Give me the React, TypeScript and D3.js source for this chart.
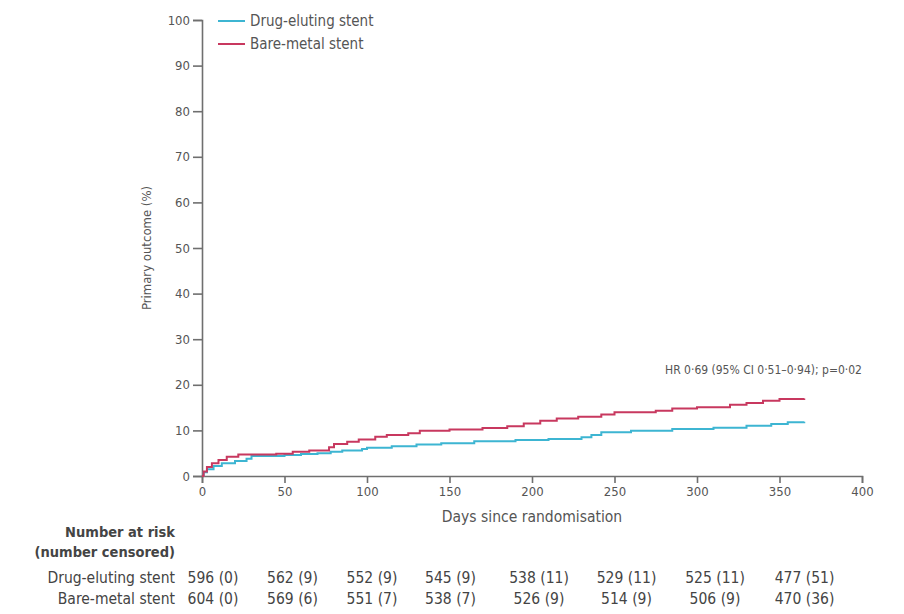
import React, { useEffect, useRef } from "react";
import * as d3 from "d3";

// Kaplan-Meier step points: [day, cumulative %]
const bareMetal: [number, number][] = [
  [0, 0], [1, 1], [3, 2], [6, 2.8], [10, 3.5], [15, 4.2], [22, 4.7], [45, 4.9],
  [55, 5.3], [65, 5.6], [77, 6.3], [80, 7.0], [88, 7.5], [95, 8.0], [105, 8.6],
  [112, 9.0], [125, 9.4], [132, 9.9], [150, 10.2], [170, 10.5], [185, 10.9],
  [195, 11.5], [205, 12.1], [215, 12.6], [228, 13.0], [242, 13.5], [250, 14.0],
  [275, 14.3], [285, 14.8], [300, 15.1], [320, 15.6], [330, 16.0], [340, 16.5],
  [350, 16.9], [365, 17.0],
];

const drugEluting: [number, number][] = [
  [0, 0], [1, 0.8], [3, 1.5], [7, 2.2], [12, 2.8], [20, 3.3], [27, 3.8], [30, 4.4],
  [50, 4.6], [60, 4.8], [70, 5.0], [78, 5.3], [85, 5.6], [97, 5.9], [100, 6.2],
  [115, 6.5], [130, 6.9], [145, 7.2], [165, 7.6], [190, 7.9], [210, 8.1],
  [230, 8.5], [236, 9.0], [242, 9.6], [260, 9.9], [285, 10.3], [310, 10.6],
  [330, 11.0], [345, 11.4], [355, 11.8], [365, 11.9],
];

const riskDays = [0, 50, 100, 150, 200, 250, 300, 350];
const riskDrug = ["596 (0)", "562 (9)", "552 (9)", "545 (9)", "538 (11)", "529 (11)", "525 (11)", "477 (51)"];
const riskBare = ["604 (0)", "569 (6)", "551 (7)", "538 (7)", "526 (9)", "514 (9)", "506 (9)", "470 (36)"];
// the table columns drift right of the ticks in the original layout
const riskShift = [11, 8, 5, 1, 7, 12, 18, 25];

const seriesNames = ["Drug-eluting stent", "Bare-metal stent"];
const seriesColors = ["#3db5d2", "#c8385f"];
const hrText = "HR 0·69 (95% CI 0·51–0·94); p=0·02";

const W = 904;
const H = 614;
const FONT = "'DejaVu Sans Condensed', 'Liberation Sans Narrow', sans-serif";

export default function App() {
  const ref = useRef<SVGSVGElement | null>(null);

  useEffect(() => {
    const svg = d3.select(ref.current);
    svg.selectAll("*").remove();
    svg.attr("font-family", FONT).style("font-stretch", "condensed");

    const x = d3.scaleLinear().domain([0, 400]).range([202, 862]);
    const y = d3.scaleLinear().domain([0, 100]).range([476, 20]);

    const axisColor = "#6f6f6f";
    const textColor = "#555";

    // y axis
    const yAxis = svg.append("g")
      .attr("transform", `translate(${x(0)},0)`)
      .call(d3.axisLeft(y).tickValues(d3.range(0, 101, 10)).tickSize(9).tickPadding(3));
    yAxis.select(".domain").attr("stroke", axisColor).attr("stroke-width", 1.6);
    yAxis.selectAll(".tick line").attr("stroke", axisColor).attr("stroke-width", 1.6);
    yAxis.selectAll(".tick text")
      .attr("fill", textColor).attr("font-size", 13).attr("font-family", FONT);

    // x axis
    const xAxis = svg.append("g")
      .attr("transform", `translate(0,${y(0)})`)
      .call(d3.axisBottom(x).tickValues(d3.range(0, 401, 50)).tickSize(7).tickPadding(4));
    xAxis.select(".domain").attr("stroke", axisColor).attr("stroke-width", 1.6);
    xAxis.selectAll(".tick line").attr("stroke", axisColor).attr("stroke-width", 1.6);
    xAxis.selectAll(".tick text")
      .attr("fill", textColor).attr("font-size", 13).attr("font-family", FONT);

    // axis titles
    svg.append("text")
      .attr("transform", `translate(151,${y(50)}) rotate(-90)`)
      .attr("text-anchor", "middle")
      .attr("font-size", 13).attr("fill", textColor)
      .text("Primary outcome (%)");

    svg.append("text")
      .attr("x", (x(0) + x(400)) / 2).attr("y", 522)
      .attr("text-anchor", "middle")
      .attr("font-size", 15.5).attr("fill", textColor)
      .text("Days since randomisation");

    // curves
    const line = d3.line<[number, number]>()
      .x(d => x(d[0]))
      .y(d => y(d[1]))
      .curve(d3.curveStepAfter);

    [drugEluting, bareMetal].forEach((data, i) => {
      svg.append("path")
        .datum(data)
        .attr("fill", "none")
        .attr("stroke", seriesColors[i])
        .attr("stroke-width", 2)
        .attr("d", line);
    });

    // legend
    seriesNames.forEach((name, i) => {
      const ly = 21 + i * 23;
      svg.append("line")
        .attr("x1", 218).attr("x2", 245).attr("y1", ly).attr("y2", ly)
        .attr("stroke", seriesColors[i]).attr("stroke-width", 2);
      svg.append("text")
        .attr("x", 250).attr("y", ly).attr("dy", "0.35em")
        .attr("font-size", 15).attr("fill", textColor)
        .text(name);
    });

    // hazard ratio
    svg.append("text")
      .attr("x", 862).attr("y", 374)
      .attr("text-anchor", "end")
      .attr("font-size", 12).attr("fill", textColor)
      .text(hrText);

    // number at risk table
    const tbl = svg.append("g").attr("font-size", 15.5).attr("fill", "#444");
    tbl.append("text").attr("x", 175).attr("y", 537).attr("text-anchor", "end")
      .attr("font-size", 14.5).attr("font-weight", "bold").text("Number at risk");
    tbl.append("text").attr("x", 175).attr("y", 557).attr("text-anchor", "end")
      .attr("font-size", 14.5).attr("font-weight", "bold").text("(number censored)");
    tbl.append("text").attr("x", 175).attr("y", 583).attr("text-anchor", "end").text(seriesNames[0]);
    tbl.append("text").attr("x", 175).attr("y", 604).attr("text-anchor", "end").text(seriesNames[1]);

    riskDays.forEach((d, i) => {
      const cx = x(d) + riskShift[i];
      tbl.append("text").attr("x", cx).attr("y", 583).attr("text-anchor", "middle").text(riskDrug[i]);
      tbl.append("text").attr("x", cx).attr("y", 604).attr("text-anchor", "middle").text(riskBare[i]);
    });
  }, []);

  return (
    <svg
      ref={ref}
      width={W}
      height={H}
      style={{ position: "absolute", left: 0, top: 0, background: "#fff" }}
    />
  );
}
